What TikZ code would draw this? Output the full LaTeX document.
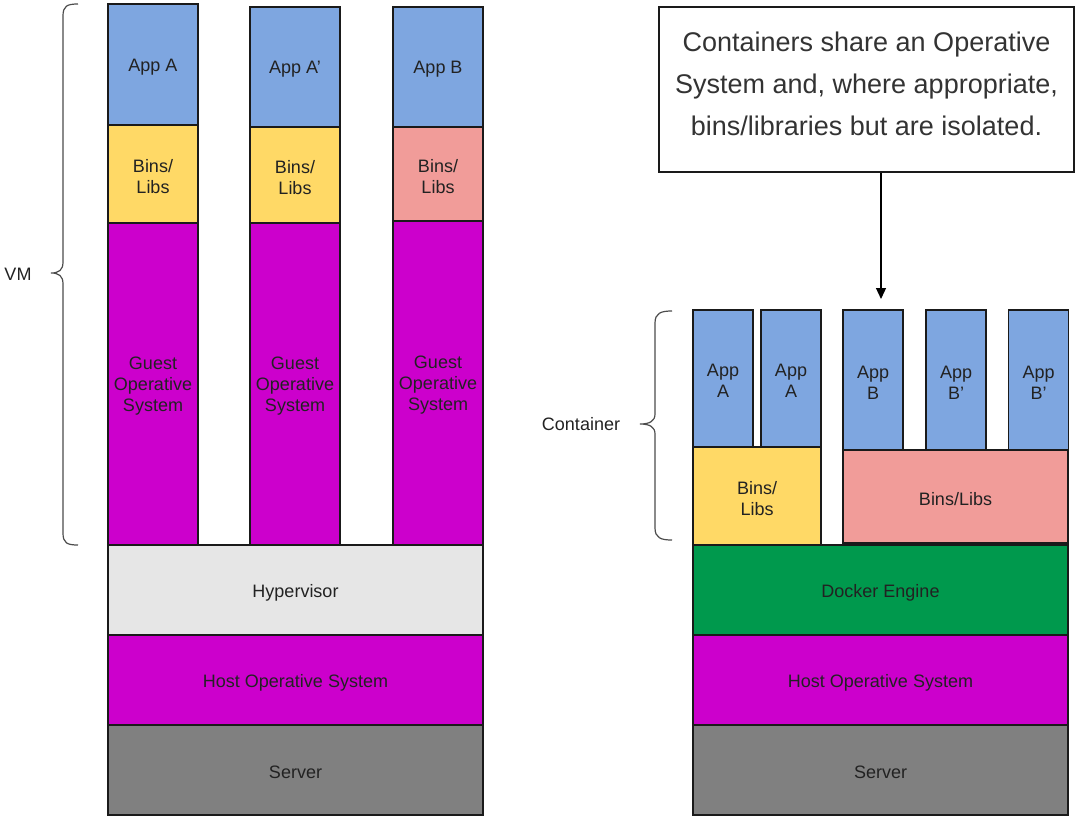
\documentclass[tikz,border=0pt]{standalone}
\usepackage{fontspec}
\setmainfont{Liberation Sans}
\usetikzlibrary{arrows.meta}
\definecolor{appblue}{HTML}{7EA6E0}
\definecolor{binyellow}{HTML}{FFD966}
\definecolor{binpink}{HTML}{F19C99}
\definecolor{osmag}{HTML}{CC00CC}
\definecolor{hypgray}{HTML}{E6E6E6}
\definecolor{servgray}{HTML}{808080}
\definecolor{dockgreen}{HTML}{00994D}
\definecolor{txt}{HTML}{222222}
\definecolor{edge}{HTML}{1A1A1A}
\tikzset{
  layer/.style={draw=edge, line width=1.3pt, inner sep=0pt},
  inlabel/.style={label={[lbl, align=center, yshift=-2.5pt]center:#1}},
  lbl/.style={inner sep=0pt, text=txt, font=\fontsize{18}{21}\selectfont},
  bracepath/.style={draw=black!70, line width=1.2pt},
  notebox/.style={draw=edge, line width=1.3pt, inner sep=0pt,
    label={[inner sep=0pt, align=center, text=black!80, font=\fontsize{27}{42}\selectfont, yshift=5.5pt]center:#1}},
  arr/.style={draw=black, line width=1.2pt, -{Triangle[length=11pt,width=10pt]}}
}
\begin{document}
\begin{tikzpicture}[x=1pt,y=-1pt]
\useasboundingbox (0,0) rectangle (1075,816);
% ---------- VM side ----------
\node[layer, fill=appblue, minimum width=90pt, minimum height=121pt, inlabel={App A}] (appA) at (153,64.5) {};
\node[layer, fill=binyellow, minimum width=90pt, minimum height=98pt, inlabel={Bins/\\Libs}] (binsA) at (153,174) {};
\node[layer, fill=osmag, minimum width=90pt, minimum height=322pt, inlabel={Guest\\Operative\\System}] (gosA) at (153,384) {};
\node[layer, fill=appblue, minimum width=90pt, minimum height=120pt, inlabel={App A'}] (appAp) at (295,67) {};
\node[layer, fill=binyellow, minimum width=90pt, minimum height=96pt, inlabel={Bins/\\Libs}] (binsAp) at (295,175) {};
\node[layer, fill=osmag, minimum width=90pt, minimum height=322pt, inlabel={Guest\\Operative\\System}] (gosAp) at (295,384) {};
\node[layer, fill=appblue, minimum width=90pt, minimum height=120pt, inlabel={App B}] (appB) at (438,67) {};
\node[layer, fill=binpink, minimum width=90pt, minimum height=94pt, inlabel={Bins/\\Libs}] (binsB) at (438,174) {};
\node[layer, fill=osmag, minimum width=90pt, minimum height=324pt, inlabel={Guest\\Operative\\System}] (gosB) at (438,383) {};
\node[layer, fill=hypgray, minimum width=375pt, minimum height=90pt, inlabel={Hypervisor}] (hyp) at (295.5,590) {};
\node[layer, fill=osmag, minimum width=375pt, minimum height=90pt, inlabel={Host Operative System}] (hostL) at (295.5,680) {};
\node[layer, fill=servgray, minimum width=375pt, minimum height=90pt, inlabel={Server}] (servL) at (295.5,770) {};
% VM brace
\draw[bracepath] (78,4) .. controls (67,4) and (63,6) .. (63,16) -- (63,262)
  .. controls (63,270) and (59,273) .. (51,273)
  .. controls (59,273) and (63,276) .. (63,284) -- (63,533)
  .. controls (63,543) and (67,545) .. (78,545);
\node[lbl] (vm) at (18,274) {VM};
% ---------- Container side ----------
\node[notebox={Containers share an Operative\\System and, where appropriate,\\bins/libraries but are isolated.}, minimum width=415pt, minimum height=165pt] (note) at (866.5,89.5) {};
\coordinate (tgt) at (881,299);
\draw[arr] (note.south -| tgt) -- (tgt);
\node[layer, fill=appblue, minimum width=60pt, minimum height=137pt, inlabel={App\\A}] (cA1) at (723,378.5) {};
\node[layer, fill=appblue, minimum width=60pt, minimum height=137pt, inlabel={App\\A}] (cA2) at (791,378.5) {};
\node[layer, fill=binyellow, minimum width=128pt, minimum height=98pt, inlabel={Bins/\\Libs}] (cbinsA) at (757,496) {};
\node[layer, fill=appblue, minimum width=60pt, minimum height=140pt, inlabel={App\\B}] (cB1) at (873,380) {};
\node[layer, fill=appblue, minimum width=60pt, minimum height=140pt, inlabel={App\\B'}] (cB2) at (956,380) {};
\node[layer, fill=appblue, minimum width=60pt, minimum height=140pt, inlabel={App\\B'}] (cB3) at (1038.5,380) {};
\node[layer, fill=binpink, minimum width=225pt, minimum height=93pt, inlabel={Bins/Libs}] (cbinsB) at (955.5,496.5) {};
\node[layer, fill=dockgreen, minimum width=375pt, minimum height=90pt, inlabel={Docker Engine}] (dock) at (880.5,590) {};
\node[layer, fill=osmag, minimum width=375pt, minimum height=90pt, inlabel={Host Operative System}] (hostR) at (880.5,680) {};
\node[layer, fill=servgray, minimum width=375pt, minimum height=90pt, inlabel={Server}] (servR) at (880.5,770) {};
% Container brace
\draw[bracepath] (672,311) .. controls (661,311) and (655,313) .. (655,323) -- (655,414)
  .. controls (655,421) and (650,424) .. (640,424)
  .. controls (650,424) and (655,427) .. (655,434) -- (655,528)
  .. controls (655,538) and (661,540) .. (672,540);
\node[lbl] (cont) at (581,424) {Container};
\end{tikzpicture}
\end{document}
